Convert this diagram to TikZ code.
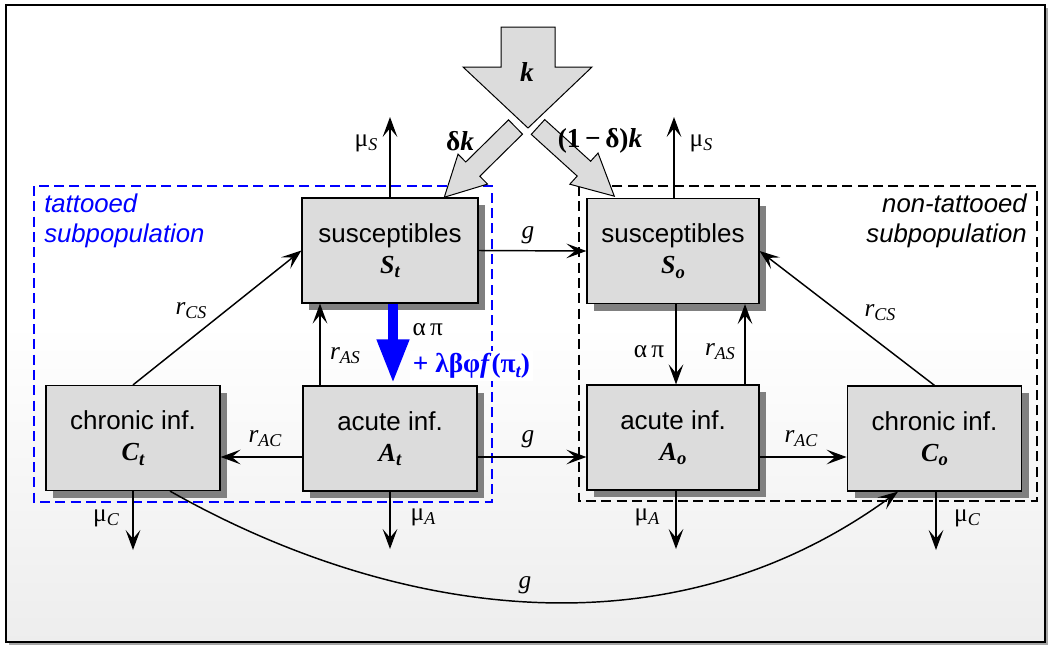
\documentclass[tikz,border=0pt]{standalone}
\usepackage{fontspec}
\setmainfont{Liberation Serif}
\newfontfamily\arial{Liberation Sans}
\usetikzlibrary{arrows.meta,calc,shadows}
\definecolor{boxgray}{HTML}{DCDCDC}
\definecolor{shadowgray}{HTML}{808080}
\definecolor{myblue}{RGB}{0,0,255}
\newcommand\sbx[1]{\raisebox{-0.35ex}{\fontsize{13.5}{13.5}\selectfont\itshape #1}}
\newcommand\bsb[1]{\raisebox{-0.35ex}{\fontsize{14}{14}\selectfont\bfseries\itshape #1}}
\newcommand\bsym[2]{{\rmfamily\fontsize{19.5}{19.5}\selectfont\bfseries\itshape #1\bsb{#2}}}
\begin{document}
\begin{tikzpicture}[x=0.75pt,y=-0.75pt,
  box/.style={draw=black, line width=0.9pt, fill=boxgray, minimum width=130.5pt,
    minimum height=78.75pt, inner sep=0pt, align=center,
    font=\arial\fontsize{19.5}{23.5}\selectfont,
    drop shadow={shadow xshift=5.5pt, shadow yshift=-5.5pt, fill=shadowgray, opacity=1}},
  arr/.style={line width=1.1pt, -{Stealth[length=15pt,width=11pt,inset=6.5pt]}},
  lab/.style={font=\fontsize{19}{19}\selectfont, inner sep=1pt},
  biglab/.style={font=\fontsize{20.5}{20.5}\selectfont, inner sep=1pt},
  blockarr/.style={draw=black, line width=0.75pt, fill=boxgray, line join=miter},
  subpop/.style={line width=1.8pt, dash pattern=on 7.5pt off 4pt}
]
\useasboundingbox (0,0) rectangle (1048,646);
% frame
\fill[shadowgray!70] (9,8) rectangle (1048,645);
\shade[top color=white, bottom color=black!7, middle color=white] (6,5) rectangle (1045,642);
\draw[line width=1.1pt] (6,5) rectangle (1045,642);

% subpopulation frames
\draw[subpop, draw=myblue] (34,186) rectangle (492,502);
\draw[subpop, draw=black] (579,186) rectangle (1037,501);
\node[anchor=north west, align=left, inner sep=0pt, text=myblue,
  font=\arial\itshape\fontsize{19.3}{22}\selectfont] (tlab) at (44,194) {tattooed\\subpopulation};
\node[anchor=north east, align=right, inner sep=0pt,
  font=\arial\itshape\fontsize{19.3}{22}\selectfont] (olab) at (1027,194) {non-tattooed\\subpopulation};

% boxes
\node[box, minimum width=132pt] (St) at (390,250.5) {susceptibles\\\bsym{S}{t}};
\node[box, minimum width=129pt] (So) at (673,251) {susceptibles\\\bsym{S}{o}};
\node[box] (At) at (390,438.5) {acute inf.\\\bsym{A}{t}};
\node[box, minimum width=129pt] (Ao) at (673,437.5) {acute inf.\\\bsym{A}{o}};
\node[box] (Ct) at (133,438) {chronic inf.\\\bsym{C}{t}};
\node[box, minimum width=131pt] (Co) at (934.5,438.5) {chronic inf.\\\bsym{C}{o}};

% free ends
\coordinate (muSt) at (390,117);
\coordinate (muSo) at (674,117);
\coordinate (muCt) at (133,550);
\coordinate (muAt) at (390,549);
\coordinate (muAo) at (676,549);
\coordinate (muCo) at (936,550);

% block arrows
\draw[blockarr] (501,27) -- (555,27) -- (555,67) -- (592,67) -- (528,128) -- (463,67) -- (501,67) -- cycle;
\node[biglab] (klab) at (527,72) {\textbf{\textit{k}}};
\begin{scope}[shift={(515.5,127)}, rotate=224.6]
\draw[blockarr] (0,-10) -- (60,-10) -- (60,-21) -- (100,0) -- (60,21) -- (60,10) -- (0,10) -- cycle;
\end{scope}
\begin{scope}[shift={(538,127)}, rotate=-42.2]
\draw[blockarr] (0,-10) -- (62,-10) -- (62,-21) -- (103,0) -- (62,21) -- (62,10) -- (0,10) -- cycle;
\end{scope}
\node[biglab] (dk) at (460,141) {\textbf{δ\textit{k}}};
\node[biglab] (odk) at (600,141) {\textbf{(1\,−\,δ)\textit{k}}};

% mortality arrows
\draw[arr] (St.north) -- (muSt);
\draw[arr] (So.north -| muSo) -- (muSo);
\draw[arr] (Ct.south) -- (muCt);
\draw[arr] (At.south) -- (muAt);
\draw[arr] (Ao.south -| muAo) -- (muAo);
\draw[arr] (Co.south -| muCo) -- (muCo);
\node[lab] at (366,143) {μ\sbx{S}};
\node[lab] at (701,143) {μ\sbx{S}};
\node[lab] at (106,518) {μ\sbx{C}};
\node[lab] at (423,517) {μ\sbx{A}};
\node[lab] at (647,517) {μ\sbx{A}};
\node[lab] at (967,518) {μ\sbx{C}};

% migration g
\draw[arr] (St.east) -- (So.west);
\node[lab] at (528,235) {\textit{g}};
\draw[arr] ($(At.east)+(0,18.5)$) -- ($(Ao.west)+(0,19.5)$);
\node[lab] at (528,439) {\textit{g}};
\draw[arr] ($(Ct.south)+(37,0)$) .. controls (380,610) and (660,665) .. ($(Co.south)+(-36.5,0)$);
\node[lab] at (525,585) {\textit{g}};

% tattooed internal
\draw[arr] ($(At.west)+(0,18.5)$) -- ($(Ct.east)+(0,19)$);
\node[lab] at (265,439) {\textit{r}\sbx{AC}};
\draw[arr] (Ct.north) -- (St.west);
\node[lab] at (191,311) {\textit{r}\sbx{CS}};
\draw[arr] ($(At.north)+(-70,0)$) -- ($(St.south)+(-70,0)$);
\node[lab] at (345,356) {\textit{r}\sbx{AS}};
\draw[line width=7.5pt, draw=myblue, -{Triangle[length=33pt,width=22.5pt]}]
  ($(St.south)+(3,0)$) -- ($(At.north)+(3,-2)$);
\node[lab, anchor=west] (ap1) at (411,330) {α\,π};
\node[biglab, anchor=west, fill=white, text=myblue, inner sep=2pt] (ap2) at (410,366)
  {\textbf{+ λβφ\textit{f}(π\raisebox{-0.35ex}{\fontsize{14}{14}\selectfont\bfseries\itshape t})}};

% non-tattooed internal
\draw[arr] ($(So.south)+(3,0)$) -- ($(Ao.north)+(3,0)$);
\node[lab] at (649,352) {α\,π};
\draw[arr] ($(Ao.north)+(72,0)$) -- ($(So.south)+(72,0)$);
\node[lab] at (720,352) {\textit{r}\sbx{AS}};
\draw[arr] ($(Ao.east)+(0,19.5)$) -- ($(Co.west)+(0,18.5)$);
\node[lab] at (801,439) {\textit{r}\sbx{AC}};
\draw[arr] (Co.north) -- (So.east);
\node[lab] at (880,313) {\textit{r}\sbx{CS}};
\end{tikzpicture}
\end{document}
